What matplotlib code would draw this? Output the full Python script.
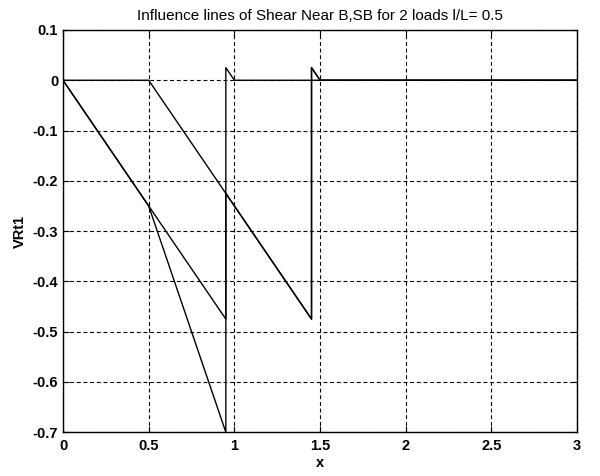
import numpy as np
import matplotlib.pyplot as plt

plt.rcParams['font.family'] = ['Liberation Sans', 'DejaVu Sans']

# ==========================
# Influence line data (x = position of leading load)
# ==========================
# both loads together
x_both = [0.0, 0.5, 0.95, 0.95, 1.45, 1.45, 1.5, 3.0]
v_both = [0.0, -0.25, -0.7, -0.225, -0.475, 0.025, 0.0, 0.0]

# leading load only
x_load1 = [0.0, 0.95, 0.95, 1.0, 3.0]
v_load1 = [0.0, -0.475, 0.025, 0.0, 0.0]

# trailing load only (spacing l/L = 0.5)
x_load2 = [0.0, 0.5, 1.45, 1.45, 1.5, 3.0]
v_load2 = [0.0, 0.0, -0.475, 0.025, 0.0, 0.0]

xticks = [0, 0.5, 1, 1.5, 2, 2.5, 3]
yticks = [0.1, 0, -0.1, -0.2, -0.3, -0.4, -0.5, -0.6, -0.7]

# ==========================
# Plot
# ==========================
fig = plt.figure(figsize=(6, 4.76), dpi=100)
ax = fig.add_axes([0.105, 0.092, 0.857, 0.845])

for xs, vs in [(x_both, v_both), (x_load1, v_load1), (x_load2, v_load2)]:
    ax.plot(xs, vs, color='black', lw=1.0)

ax.set_xlim(0, 3)
ax.set_ylim(-0.7, 0.1)
ax.set_xticks(xticks)
ax.set_xticklabels([f"{t:g}" for t in xticks])
ax.set_yticks(yticks)
ax.set_yticklabels([f"{t:g}" for t in yticks])

ax.grid(True, color='black', ls=(0, (3.5, 2.5)), lw=0.8)
ax.tick_params(direction='in', top=True, right=True, length=4,
               labelsize=10.5, width=0.8)
ax.tick_params(axis='x', pad=5)
for lab in ax.get_xticklabels() + ax.get_yticklabels():
    lab.set_fontweight('bold')
for sp in ax.spines.values():
    sp.set_linewidth(1.0)

ax.set_title("Influence lines of Shear Near B,SB for 2 loads l/L= 0.5",
             fontsize=11, pad=7)
ax.set_xlabel("x", fontsize=10.5, fontweight='bold', labelpad=2)
ax.set_ylabel("VRt1", fontsize=10.5, fontweight='bold', labelpad=4)

plt.savefig("out.png", dpi=100)
